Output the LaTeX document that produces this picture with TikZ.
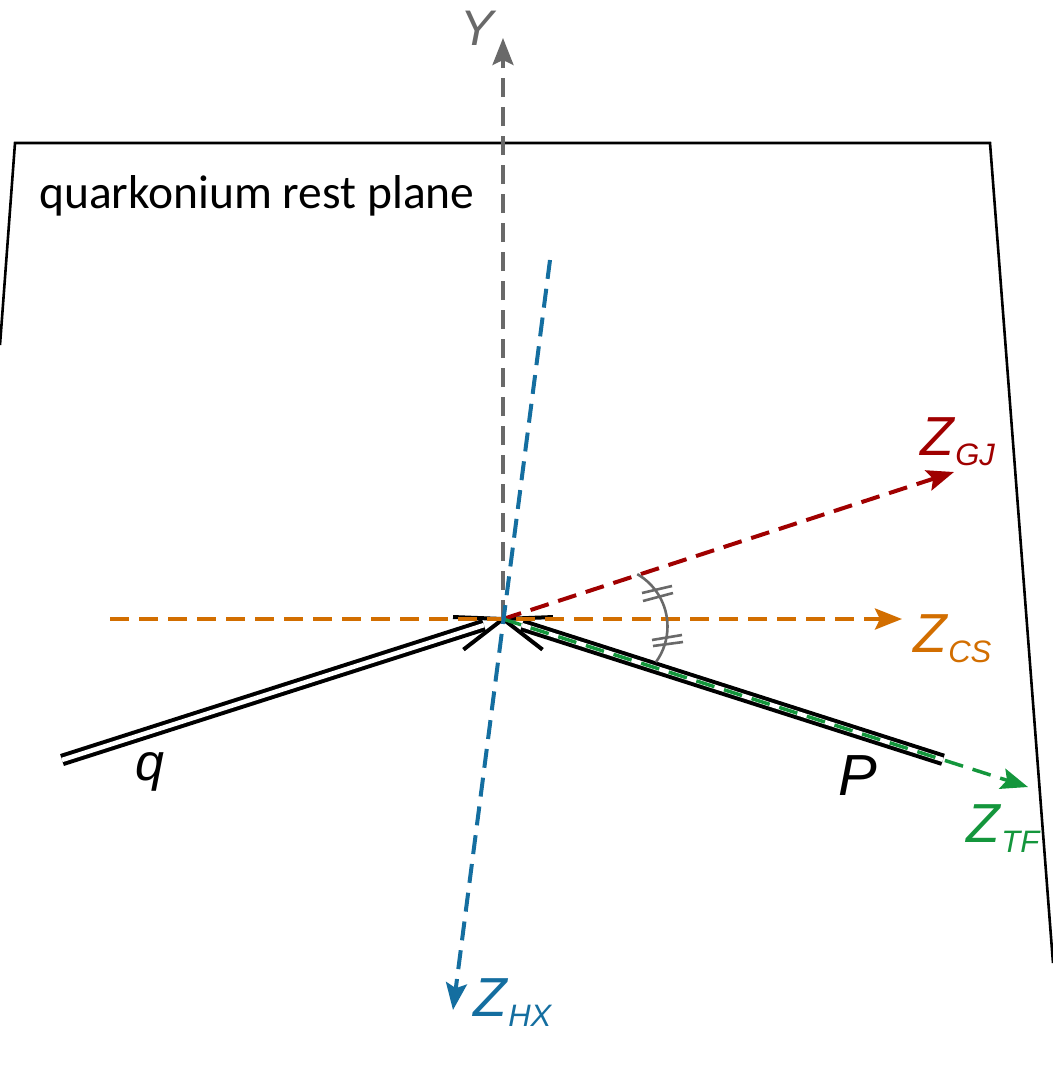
\documentclass[tikz,border=0pt]{standalone}
\usepackage{fontspec}
\setmainfont{Liberation Sans}
\newfontfamily\calib{Carlito}
\usetikzlibrary{arrows.meta,calc}
\definecolor{cgray}{RGB}{105,105,105}
\definecolor{cblue}{RGB}{20,110,160}
\definecolor{cred}{RGB}{160,0,0}
\definecolor{corange}{RGB}{210,110,0}
\definecolor{cgreen}{RGB}{20,150,60}
\newcommand{\zlab}[1]{\fontsize{55}{55}\selectfont\textit{Z}\raisebox{-10pt}{\fontsize{31}{31}\selectfont\textit{#1}}}
\begin{document}
\begin{tikzpicture}[x=1pt,y=-1pt,
  axisline/.style={dash pattern=on 19pt off 10pt, line width=4pt},
  tipped/.style={-{Stealth[length=27pt,width=21pt,inset=5pt]}},
  dblline/.style={double, line width=4pt, double distance=4.5pt},
  barb/.style={line width=4pt, line join=miter, line cap=butt},
  lbl/.style={inner sep=0pt, anchor=base west}]
\useasboundingbox (0,0) rectangle (1053,1088);
% plane
\draw[line width=2.6pt] (0,345) -- (15,143) -- (990,143) -- (1053,963);
\node[lbl] (plane) at (39,208) {\calib\fontsize{47.5}{47.5}\selectfont quarkonium rest plane};
% coordinates
\coordinate (O) at (503,619);
\coordinate (ytip) at (503,38);
\coordinate (hxtop) at (550,260);
\coordinate (hxtip) at (453,1010);
\coordinate (csstart) at (110,619);
\coordinate (cstip) at (902,619);
\coordinate (gjtip) at (954,472);
\coordinate (tftip) at (1028,787);
\coordinate (qend) at (62,760);
\coordinate (Pend) at ($(O)!0.838!(tftip)$);
% double lines with chevron tips
\draw[dblline] (qend) -- ($(O)!20pt!(qend)$);
\draw[barb] ($(O)!50pt!20:(qend)$) -- (O) -- ($(O)!50pt!-20:(qend)$);
\draw[dblline] (Pend) -- ($(O)!20pt!(Pend)$);
\draw[barb] ($(O)!50pt!20:(Pend)$) -- (O) -- ($(O)!50pt!-20:(Pend)$);
% axes
\draw[axisline, corange, tipped] (csstart) -- (cstip);
\draw[axisline, cgray, line width=3.5pt, tipped] (O) -- (ytip);
\draw[axisline, cred, tipped] (O) -- (gjtip);
\draw[axisline, cgreen, line width=3.5pt, tipped] (O) -- (tftip);
\draw[axisline, cblue, tipped] (hxtop) -- (hxtip);
% angle arc and ticks
\draw[cgray, line width=2.6pt] (607,626.5) ++(-60:60.5) arc[start angle=-60, end angle=36, radius=60.5];
\draw[cgray, line width=2.6pt] (642,593) -- (672,586) (643,601) -- (673,593);
\draw[cgray, line width=2.6pt] (652,640) -- (682,635) (653,646) -- (683,642);
% labels
\node[inner sep=0pt, anchor=base, text=cgray] (ylab) at (479,45) {\fontsize{50}{50}\selectfont\textit{Y}};
\node[lbl, text=cred] (gjlab) at (920,455) {\zlab{GJ}};
\node[lbl, text=corange] (cslab) at (913,652) {\zlab{CS}};
\node[lbl, text=cgreen] (tflab) at (966,842) {\zlab{TF}};
\node[lbl, text=cblue] (hxlab) at (473,1016) {\zlab{HX}};
\node[inner sep=0pt, anchor=base] (qlab) at (150,780) {\fontsize{52}{52}\selectfont\textit{q}};
\node[inner sep=0pt, anchor=base] (plab) at (858,795) {\fontsize{58}{58}\selectfont\textit{P}};
\end{tikzpicture}
\end{document}
